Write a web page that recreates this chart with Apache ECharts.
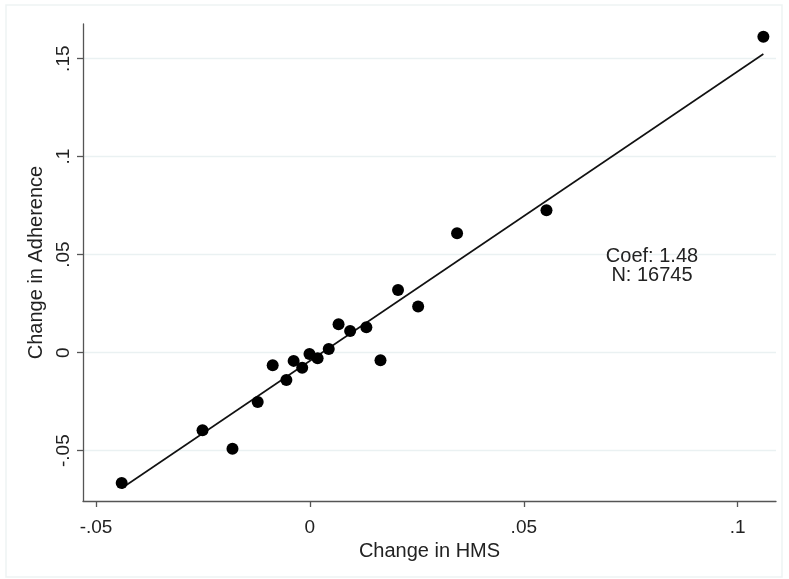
<!DOCTYPE html>
<html>
<head>
<meta charset="utf-8">
<script src="https://cdn.jsdelivr.net/npm/echarts@6/dist/echarts.min.js"></script>
<style>
html,body{margin:0;padding:0;background:#fff;}
#chart{width:789px;height:579px;}
</style>
</head>
<body>
<div id="chart"></div>
<script>
// Binned scatter: change in HMS vs change in adherence
var hmsX = [-0.0440, -0.0251, -0.0181, -0.0122, -0.0087, -0.0055, -0.0038, -0.0018, -0.0001, 0.0018,
            0.0044, 0.0067, 0.0094, 0.0132, 0.0165, 0.0206, 0.0253, 0.0344, 0.0553, 0.1060];
var adherenceY = [-0.0665, -0.0396, -0.0490, -0.0252, -0.0064, -0.0139, -0.0042, -0.0077, -0.0007, -0.0029,
                  0.0019, 0.0145, 0.0111, 0.0130, -0.0039, 0.0320, 0.0235, 0.0609, 0.0727, 0.1612];
// fitted line endpoints
var fitX = [-0.0440, 0.1060];
var fitY = [-0.0692, 0.1524];
// tick values and labels
var xTickValues = [-0.05, 0, 0.05, 0.1];
var xTickLabels = ['-.05', '0', '.05', '.1'];
var yTickValues = [-0.05, 0, 0.05, 0.1, 0.15];
var yTickLabels = ['-.05', '0', '.05', '.1', '.15'];
var annotation = ['Coef: 1.48', 'N: 16745'];

function labelFor(values, labels) {
  return function (v) {
    for (var i = 0; i < values.length; i++) {
      if (Math.abs(values[i] - v) < 1e-9) return labels[i];
    }
    return '';
  };
}

var chart = echarts.init(document.getElementById('chart'), null, {renderer: 'canvas'});
var font = 'Liberation Sans, Arial, sans-serif';
var scatterData = hmsX.map(function (x, i) { return [x, adherenceY[i]]; });
var lineData = fitX.map(function (x, i) { return [x, fitY[i]]; });

chart.setOption({
  animation: false,
  backgroundColor: '#ffffff',
  textStyle: {fontFamily: font},
  grid: {left: 83, right: 13, top: 24, bottom: 78, containLabel: false},
  xAxis: {
    type: 'value',
    min: -0.05304, max: 0.10895,
    name: 'Change in HMS',
    nameLocation: 'middle',
    nameGap: 34,
    nameTextStyle: {fontSize: 20, color: '#222', fontFamily: font},
    axisLine: {show: true, onZero: false, lineStyle: {color: '#555', width: 1.3}},
    axisTick: {show: true, length: 6, inside: false, customValues: xTickValues, lineStyle: {color: '#555', width: 1.3}},
    axisLabel: {customValues: xTickValues, formatter: labelFor(xTickValues, xTickLabels), fontSize: 19, color: '#222', margin: 17, fontFamily: font},
    splitLine: {show: false}
  },
  yAxis: {
    type: 'value',
    min: -0.0757, max: 0.1677,
    name: 'Change in Adherence',
    nameLocation: 'middle',
    nameRotate: 90,
    nameGap: 31,
    nameTextStyle: {fontSize: 20, color: '#222', fontFamily: font},
    axisLine: {show: true, onZero: false, lineStyle: {color: '#555', width: 1.3}},
    axisTick: {show: true, length: 6, inside: false, customValues: yTickValues, lineStyle: {color: '#555', width: 1.3}},
    axisLabel: {customValues: yTickValues, formatter: labelFor(yTickValues, yTickLabels), rotate: 90, fontSize: 19, color: '#222', margin: 10, fontFamily: font},
    splitLine: {show: true, lineStyle: {color: '#eaf1f2', width: 1.3}}
  },
  graphic: [
    {type: 'rect', shape: {x: 6, y: 5, width: 776, height: 572}, style: {fill: 'none', stroke: '#eef3f4', lineWidth: 1.5}, silent: true, z: -1},
    {type: 'text', x: 652, y: 256, z: 100, style: {text: annotation[0], fontSize: 20, fill: '#222', align: 'center', verticalAlign: 'middle', fontFamily: font}},
    {type: 'text', x: 652, y: 275, z: 100, style: {text: annotation[1], fontSize: 20, fill: '#222', align: 'center', verticalAlign: 'middle', fontFamily: font}}
  ],
  series: [
    {
      type: 'line',
      data: lineData,
      showSymbol: false,
      symbol: 'none',
      lineStyle: {color: '#111', width: 1.6},
      z: 2
    },
    {
      type: 'scatter',
      data: scatterData,
      symbol: 'circle',
      symbolSize: 12,
      itemStyle: {color: '#000', opacity: 1},
      z: 3
    }
  ]
});
</script>
</body>
</html>
